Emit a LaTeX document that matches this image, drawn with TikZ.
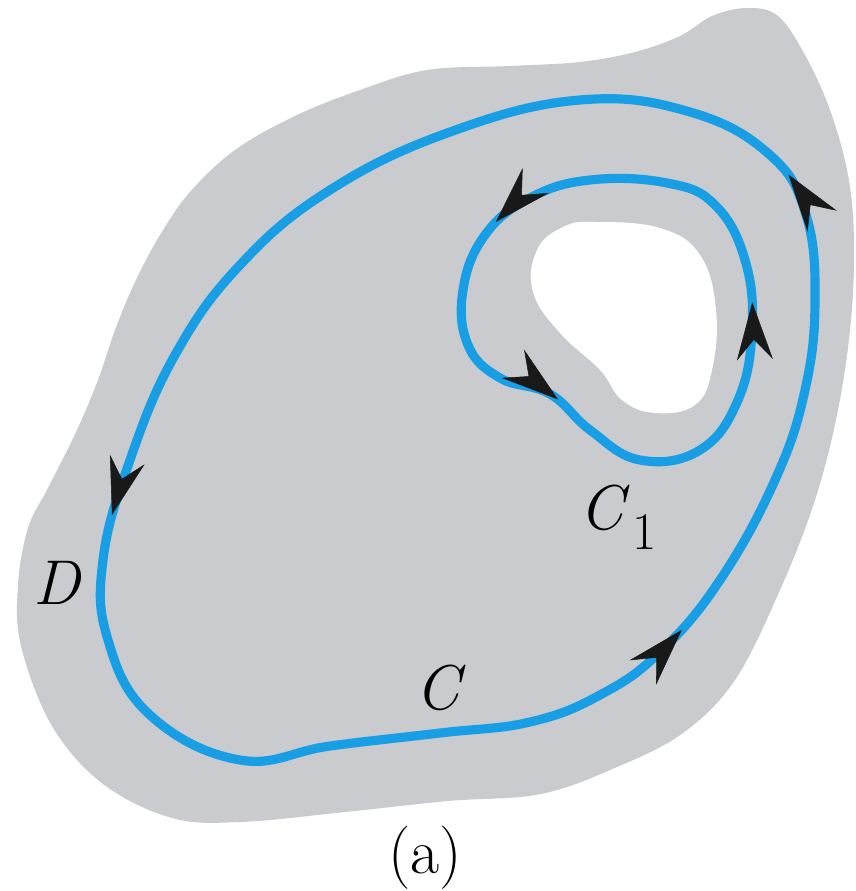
\documentclass[tikz,border=0pt]{standalone}
\usetikzlibrary{arrows.meta, decorations.markings}

\definecolor{regiongray}{RGB}{201,203,206}
\definecolor{pathblue}{RGB}{24,158,228}

\begin{document}
\begin{tikzpicture}[
    x=0.02cm, y=-0.02cm,
    flowtip/.tip={Stealth[length=1.15cm, width=0.72cm, inset=0.4cm, line width=0.3pt, color=black!90]},
    curve/.style={draw=pathblue, line width=5.2pt, postaction={decorate}},
    label/.style={font=\fontsize{36}{40}\selectfont, inner sep=0pt}
]
    \useasboundingbox (0,0) rectangle (855,891);

    % region D
    \fill[regiongray] plot[smooth cycle, tension=0.6] coordinates {
        (747,8) (778,16) (805,55) (830,110) (848,175) (854,240) (851,320)
        (838,410) (815,500) (780,590) (735,680) (683,733) (617,767)
        (541,794) (448,801) (345,812) (241,822) (172,818) (103,784)
        (52,726) (21,646) (18,585) (28,528) (48,488) (76,432) (98,380)
        (115,330) (135,282) (160,235) (190,192) (235,150) (295,116)
        (360,90) (427,70) (510,66) (580,62) (635,52) (680,36) (712,16)};

    % hole
    \fill[white] plot[smooth cycle, tension=0.7] coordinates {
        (595,222) (660,228) (700,255) (716,310) (712,370) (695,405)
        (655,413) (622,400) (600,370) (560,333) (533,292) (537,250)
        (563,227)};

    % outer curve C
    \path[curve, decoration={markings,
        mark=at position 0.245 with {\arrow{flowtip}},
        mark=at position 0.607 with {\arrow{flowtip}},
        mark=at position 0.833 with {\arrow{flowtip}}}]
        plot[smooth cycle, tension=0.7] coordinates {
        (580,100) (450,132) (330,190) (240,265) (175,355) (130,460)
        (103,560) (108,640) (150,715) (240,760) (330,746) (440,733)
        (530,722) (600,695) (660,652) (720,580) (775,480) (805,390)
        (815,300) (806,215) (770,155) (690,112)};

    % inner curve C1
    \path[curve, decoration={markings,
        mark=at position 0.115 with {\arrow{flowtip}},
        mark=at position 0.38 with {\arrow{flowtip}},
        mark=at position 0.74 with {\arrow{flowtip}}}]
        plot[smooth cycle, tension=0.7] coordinates {
        (667,183) (590,180) (530,198) (485,235) (463,290) (468,345)
        (500,378) (550,394) (590,430) (640,460) (700,450) (738,400)
        (752,330) (745,260) (715,205)};

    \node[label] (labD)  at (58,583)  {\textit{D}};
    \node[label] (labC)  at (441,688) {\textit{C}};
    \node[label] (labCone) at (618,517)
        {\textit{C}\hspace{0.05em}\raisebox{-0.32em}{\fontsize{30}{30}\selectfont 1}};
    \node[label] (caption) at (425,858) {(a)};
\end{tikzpicture}
\end{document}
